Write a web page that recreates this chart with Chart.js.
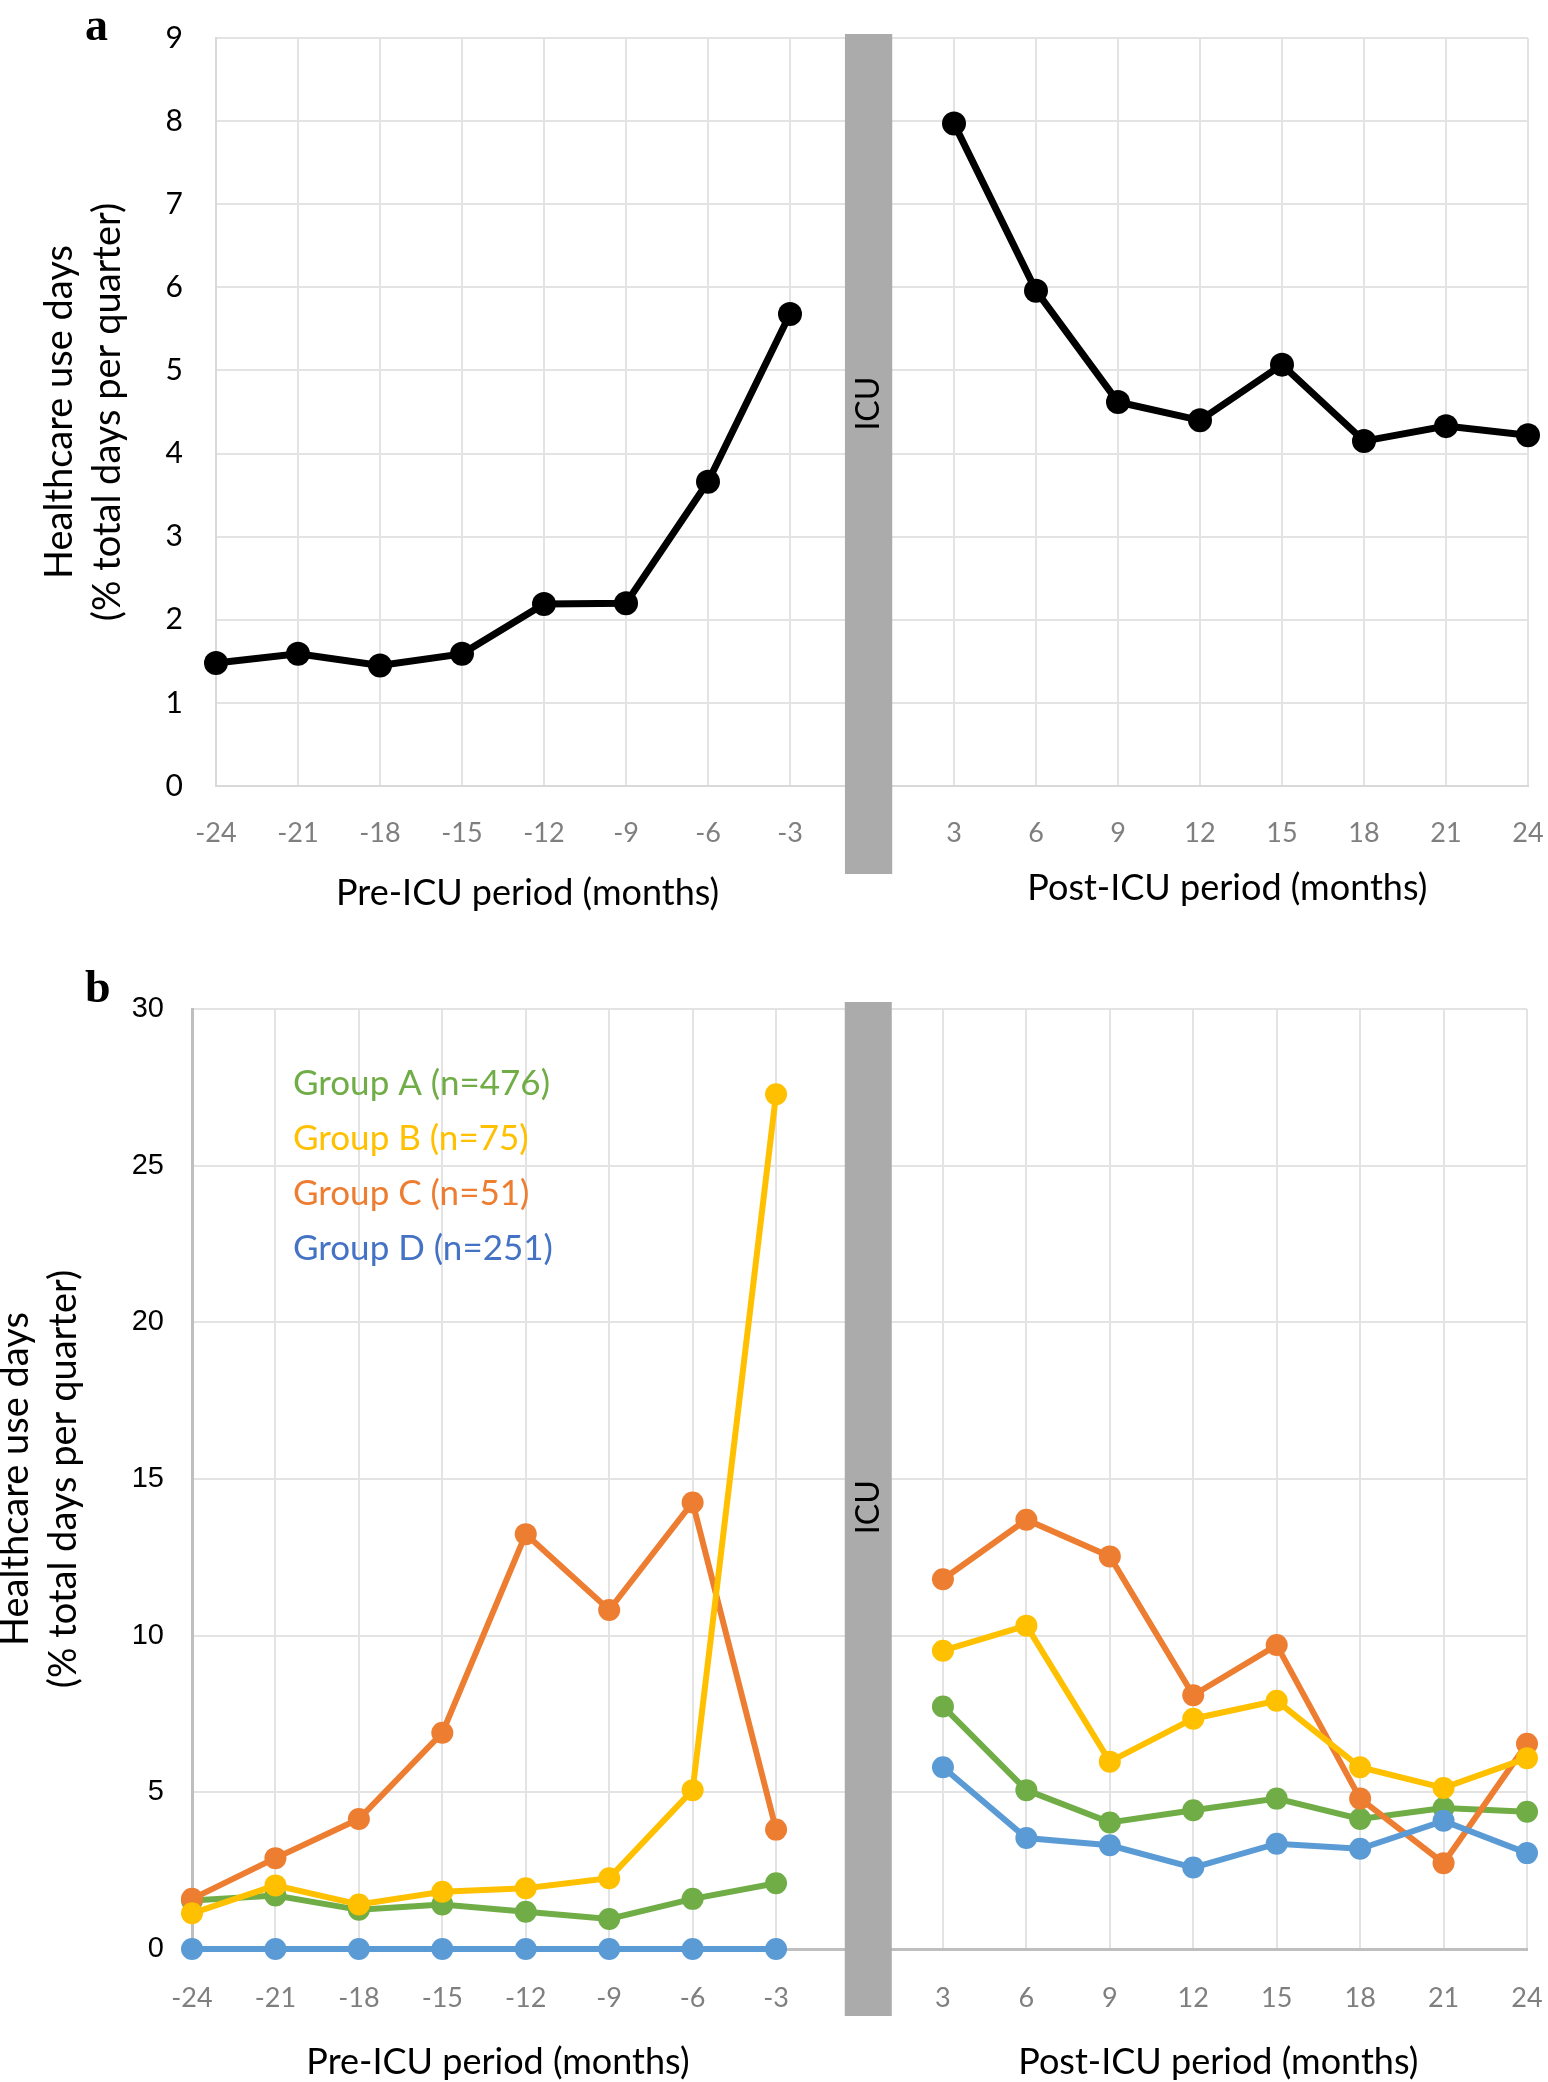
<!DOCTYPE html>
<html>
<head>
<meta charset="utf-8">
<title>Healthcare use days before and after ICU</title>
<script src="https://cdn.jsdelivr.net/npm/chart.js@4.4.1/dist/chart.umd.min.js"></script>
<style>
  html, body { margin: 0; padding: 0; background: #fff; }
  body { width: 1548px; height: 2082px; position: relative; overflow: hidden; }
  .panel { position: absolute; left: 0; }
  #wrapA { top: 0; }
  #wrapB { top: 950px; }
  .tag { position: absolute; font-family: "Liberation Serif", serif; font-weight: bold; font-size: 46px; line-height: 1; }
</style>
</head>
<body>
<div class="panel" id="wrapA"><canvas id="chartA" width="1548" height="930"></canvas></div>
<div class="panel" id="wrapB"><canvas id="chartB" width="1548" height="1132"></canvas></div>
<div class="tag" style="left:85px; top:2px">a</div>
<div class="tag" style="left:85px; top:964px">b</div>
<script>
// months relative to ICU admission
const preMonths = [-24, -21, -18, -15, -12, -9, -6, -3];
const postMonths = [3, 6, 9, 12, 15, 18, 21, 24];

// panel a: all patients
const allPre = [1.48, 1.59, 1.45, 1.59, 2.19, 2.2, 3.66, 5.68];
const allPost = [7.97, 5.96, 4.62, 4.40, 5.07, 4.15, 4.33, 4.22];

// panel b: groups
const groupLabels = ['Group A (n=476)', 'Group B (n=75)', 'Group C (n=51)', 'Group D (n=251)'];
const groupColors = ['#70AD47', '#FFC000', '#ED7D31', '#5B9BD5'];
const legendColors = ['#70AD47', '#FFC000', '#ED7D31', '#4472C4'];
const groupAPre = [1.55, 1.71, 1.25, 1.42, 1.19, 0.96, 1.60, 2.10];
const groupAPost = [7.74, 5.07, 4.04, 4.43, 4.80, 4.15, 4.50, 4.38];
const groupBPre = [1.14, 2.03, 1.42, 1.83, 1.94, 2.26, 5.07, 27.28];
const groupBPost = [9.52, 10.32, 5.98, 7.35, 7.92, 5.80, 5.14, 6.09];
const groupCPre = [1.60, 2.90, 4.15, 6.90, 13.24, 10.82, 14.25, 3.81];
const groupCPost = [11.80, 13.70, 12.53, 8.10, 9.70, 4.80, 2.74, 6.55];
const groupDPre = [0, 0, 0, 0, 0, 0, 0, 0];
const groupDPost = [5.80, 3.54, 3.31, 2.60, 3.36, 3.20, 4.09, 3.06];

const yTitle = ['Healthcare use days', '(% total days per quarter)'];

// pre and post joined with a gap at the ICU stay
const toPoints = (pre, post) => [
  ...preMonths.map((m, i) => ({ x: m, y: pre[i] })),
  { x: 0, y: null },
  ...postMonths.map((m, i) => ({ x: m, y: post[i] }))
];

const GRID = '#e3e3e3';

// grey ICU bar with rotated label
const icuBar = {
  id: 'icuBar',
  beforeDatasetsDraw(chart, args, opts) {
    const { ctx, chartArea, scales: { x, y } } = chart;
    const left = x.getPixelForValue(opts.from);
    const right = x.getPixelForValue(opts.to);
    const top = chartArea.top - opts.above;
    const bottom = chartArea.bottom + opts.below;
    ctx.save();
    ctx.fillStyle = '#ababab';
    ctx.fillRect(left, top, right - left, bottom - top);
    ctx.translate((left + right) / 2, y.getPixelForValue(opts.textAt));
    ctx.rotate(-Math.PI / 2);
    ctx.fillStyle = '#000';
    ctx.font = '32px Lato';
    ctx.textAlign = 'center';
    ctx.textBaseline = 'middle';
    ctx.fillText('ICU', 0, 0);
    ctx.restore();
  }
};

// "Pre-ICU period" / "Post-ICU period" titles under each half
const periodTitles = {
  id: 'periodTitles',
  afterDraw(chart, args, opts) {
    const { ctx, chartArea, scales: { x } } = chart;
    ctx.save();
    ctx.fillStyle = '#000';
    ctx.font = '36px Lato';
    ctx.textAlign = 'center';
    ctx.textBaseline = 'middle';
    opts.items.forEach(it => {
      ctx.fillText(it.text, x.getPixelForValue(it.at), chartArea.bottom + it.dy);
    });
    ctx.restore();
  }
};

// coloured text legend in panel b
const groupLegend = {
  id: 'groupLegend',
  afterDraw(chart, args, opts) {
    if (!opts.show) return;
    const { ctx, scales: { x, y } } = chart;
    const left = x.getPixelForValue(opts.x);
    const top = y.getPixelForValue(opts.y);
    ctx.save();
    ctx.font = '35px Lato';
    ctx.textAlign = 'left';
    ctx.textBaseline = 'middle';
    chart.data.datasets.forEach((ds, i) => {
      ctx.fillStyle = legendColors[i];
      ctx.fillText(ds.label, left, top + i * opts.step);
    });
    ctx.restore();
  }
};

function xAxis(opts) {
  return {
    type: 'linear',
    min: -24,
    max: 24,
    ticks: {
      stepSize: 3,
      autoSkip: false,
      maxRotation: 0,
      padding: opts.tickPad,
      color: '#7f7f7f',
      font: { family: 'Lato', size: 27 },
      callback: v => (v === 0 ? '' : `${v}`)
    },
    grid: { color: GRID, lineWidth: 2, drawTicks: false },
    border: { color: opts.borderColor, width: opts.borderWidth },
    afterFit: s => {
      s.height = opts.height;
      // keep the plot edge where the reference has it
      s.paddingLeft = 0;
      s.paddingRight = 0;
    }
  };
}

function yAxis(opts) {
  return {
    min: 0,
    max: opts.max,
    ticks: {
      stepSize: opts.step,
      padding: opts.tickPad,
      color: '#000',
      font: opts.tickFont
    },
    grid: { color: GRID, lineWidth: 2, drawTicks: false },
    border: { color: opts.borderColor, width: opts.borderWidth },
    title: {
      display: true,
      text: yTitle,
      color: '#000',
      font: { family: 'Lato', size: 38, lineHeight: 1.263 },
      padding: { top: opts.titlePad, bottom: 0 }
    },
    afterFit: s => {
      s.width = opts.width;
      s.paddingTop = 0;
      s.paddingBottom = 0;
    }
  };
}

// panel a
new Chart(document.getElementById('chartA'), {
  type: 'line',
  data: {
    datasets: [{
      label: 'All patients',
      data: toPoints(allPre, allPost),
      borderColor: '#000',
      backgroundColor: '#000',
      pointBackgroundColor: '#000',
      pointBorderWidth: 0,
      pointRadius: 12,
      borderWidth: 7,
      tension: 0,
      spanGaps: false,
      clip: false
    }]
  },
  options: {
    responsive: false,
    animation: false,
    events: [],
    layout: { padding: { top: 38, right: 20, left: 0, bottom: 0 } },
    scales: {
      x: xAxis({ tickPad: 31, height: 144, borderColor: '#d9d9d9', borderWidth: 2 }),
      y: yAxis({ max: 9, step: 1, tickPad: 33, width: 216, titlePad: 36,
                 tickFont: { family: 'Lato', size: 30 }, borderColor: '#d9d9d9', borderWidth: 2 })
    },
    plugins: {
      legend: { display: false },
      tooltip: { enabled: false },
      icuBar: { from: -0.99, to: 0.74, above: 4, below: 88, textAt: 4.6 },
      periodTitles: { items: [
        { text: 'Pre-ICU period (months)', at: -12.6, dy: 107 },
        { text: 'Post-ICU period (months)', at: 13.0, dy: 102 }
      ] },
      groupLegend: { show: false }
    }
  },
  plugins: [icuBar, periodTitles, groupLegend]
});

// panel b
const groupPre = [groupAPre, groupBPre, groupCPre, groupDPre];
const groupPost = [groupAPost, groupBPost, groupCPost, groupDPost];
const drawOrder = [3, 1, 2, 0];

new Chart(document.getElementById('chartB'), {
  type: 'line',
  data: {
    datasets: groupLabels.map((label, i) => ({
      label,
      data: toPoints(groupPre[i], groupPost[i]),
      borderColor: groupColors[i],
      backgroundColor: groupColors[i],
      pointBackgroundColor: groupColors[i],
      pointBorderWidth: 0,
      pointRadius: 11,
      borderWidth: 6,
      tension: 0,
      spanGaps: false,
      clip: false,
      order: drawOrder[i]
    }))
  },
  options: {
    responsive: false,
    animation: false,
    events: [],
    layout: { padding: { top: 59, right: 21, left: 0, bottom: 0 } },
    scales: {
      x: xAxis({ tickPad: 33, height: 133, borderColor: '#bfbfbf', borderWidth: 3 }),
      y: yAxis({ max: 30, step: 5, tickPad: 28, width: 192, titlePad: -8,
                 tickFont: { family: 'Liberation Sans', size: 29 }, borderColor: '#bfbfbf', borderWidth: 3 })
    },
    plugins: {
      legend: { display: false },
      tooltip: { enabled: false },
      icuBar: { from: -0.53, to: 1.16, above: 7, below: 67, textAt: 14.1 },
      periodTitles: { items: [
        { text: 'Pre-ICU period (months)', at: -13.0, dy: 113 },
        { text: 'Post-ICU period (months)', at: 12.9, dy: 113 }
      ] },
      groupLegend: { show: true, x: -20.37, y: 27.63, step: 55 }
    }
  },
  plugins: [icuBar, periodTitles, groupLegend]
});
</script>
</body>
</html>
